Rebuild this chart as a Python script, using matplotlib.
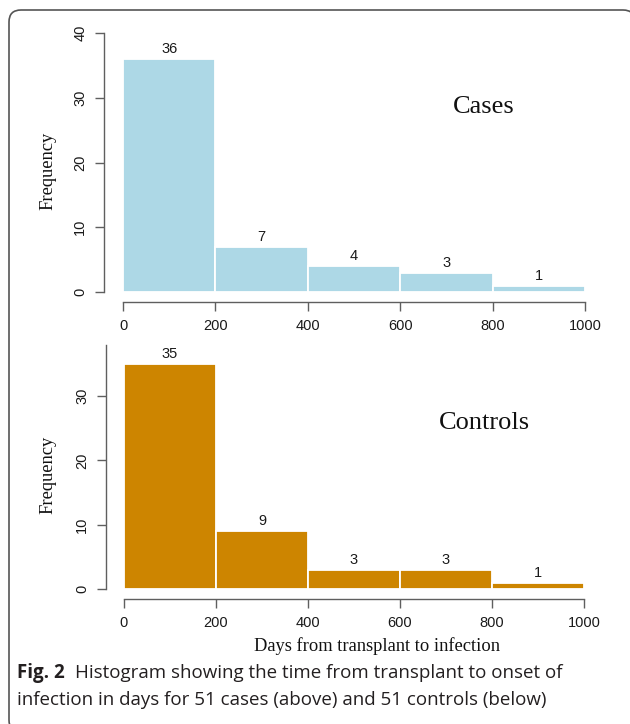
import matplotlib
matplotlib.use("Agg")
import matplotlib.pyplot as plt
from matplotlib.patches import FancyBboxPatch

# ---- data ----
bin_edges = [0, 200, 400, 600, 800, 1000]
cases_counts = [36, 7, 4, 3, 1]
controls_counts = [35, 9, 3, 3, 1]
x_ticks = [0, 200, 400, 600, 800, 1000]
cases_yticks = [0, 10, 20, 30, 40]
controls_yticks = [0, 10, 20, 30]
panel_labels = ["Cases", "Controls"]
ylabel_text = "Frequency"
xlabel_text = "Days from transplant to infection"
caption_bold = "Fig. 2"
caption_line1 = "Histogram showing the time from transplant to onset of"
caption_line2 = "infection in days for 51 cases (above) and 51 controls (below)"

W, H = 630, 724
DPI = 100
fig = plt.figure(figsize=(W / DPI, H / DPI), dpi=DPI)
fig.patch.set_facecolor("white")

def px(x, y):
    return x / W, 1 - y / H

SANS = ["Liberation Sans", "DejaVu Sans"]
SERIF = ["Liberation Serif", "DejaVu Serif"]
AXC = "#5f5f5f"

def make_panel(left, right, y0, ytop_px, ymax, counts, yticks, color, lspine_px, label, label_xy):
    fx0, fy0 = px(left, y0)
    fx1, fy1 = px(right, ytop_px)
    ax = fig.add_axes([fx0, fy0, fx1 - fx0, fy1 - fy0])
    ax.set_xlim(bin_edges[0], bin_edges[-1])
    ax.set_ylim(0, ymax)
    widths = [bin_edges[i + 1] - bin_edges[i] for i in range(len(counts))]
    ax.bar(bin_edges[:-1], counts, width=widths, align="edge", color=color,
           edgecolor="white", linewidth=1.3)
    for i, c in enumerate(counts):
        xc = (bin_edges[i] + bin_edges[i + 1]) / 2
        ax.annotate(str(c), (xc, c), xytext=(0, 7.2), textcoords="offset points",
                    ha="center", va="center", fontsize=10.5, family=SANS,
                    color="#1a1a1a", annotation_clip=False)
    for s in ["top", "right"]:
        ax.spines[s].set_visible(False)
    ax.spines["left"].set_position(("outward", lspine_px * 0.72))
    ax.spines["bottom"].set_position(("outward", 10 * 0.72))
    ax.spines["left"].set_bounds(0, ymax if ymax < 40 else 40)
    ax.spines["bottom"].set_bounds(bin_edges[0], bin_edges[-1])
    for s in ["left", "bottom"]:
        ax.spines[s].set_color(AXC)
        ax.spines[s].set_linewidth(1.0)
    ax.set_xticks(x_ticks)
    ax.set_yticks(yticks)
    ax.tick_params(axis="both", colors=AXC, length=6.5, width=1.0,
                   labelcolor="#1a1a1a", labelsize=10.5)
    ax.tick_params(axis="x", pad=5.5)
    ax.tick_params(axis="y", pad=5.5)
    for t in ax.get_yticklabels():
        t.set_rotation(90)
        t.set_va("center")
        t.set_family(SANS)
    for t in ax.get_xticklabels():
        t.set_family(SANS)
    ax.patch.set_alpha(0)
    lx, ly = px(*label_xy)
    fig.text(lx, ly, label, ha="center", va="center", fontsize=19, family=SERIF,
             color="#111111")
    return ax

# top panel: y=0 at 292px, y=40 at 33px
ax1 = make_panel(123, 585, 292, 33, 40, cases_counts, cases_yticks, "#ADD8E6",
                 19, panel_labels[0], (484, 107))
# bottom panel: y=0 at 589px, scale 6.43 px/unit, spine top ~345px
ymax2 = (589 - 345) / 6.43
ax2 = make_panel(124, 584, 589, 345, ymax2, controls_counts, controls_yticks, "#CD8500",
                 18, panel_labels[1], (484, 423))

for yc in (171, 475):
    fx, fy = px(48, yc)
    fig.text(fx, fy, ylabel_text, rotation=90, ha="center", va="center",
             fontsize=13.3, family=SERIF, color="#111111")

fx, fy = px(377, 646)
fig.text(fx, fy, xlabel_text, ha="center", va="center", fontsize=13.3,
         family=SERIF, color="#111111")

# caption
CAPF = ["Open Sans", "DejaVu Sans"]
CAPS = 13.5
CAPC = "#231f20"
fx, fy = px(17, 673)
tb = fig.text(fx, fy, caption_bold, ha="left", va="center", fontsize=CAPS,
              family=CAPF, weight="bold", color=CAPC)
renderer = fig.canvas.get_renderer()
bb = tb.get_window_extent(renderer=renderer)
fig.text((bb.x1 + 10) / W, fy, caption_line1, ha="left", va="center", fontsize=CAPS,
         family=CAPF, color=CAPC)
fx2, fy2 = px(17, 700)
fig.text(fx2, fy2, caption_line2, ha="left", va="center", fontsize=CAPS,
         family=CAPF, color=CAPC)

# border
bg = fig.add_axes([0, 0, 1, 1], zorder=-5)
bg.set_xlim(0, W)
bg.set_ylim(H, 0)
bg.axis("off")
bg.add_patch(FancyBboxPatch((9, 10), 626, 722, boxstyle="round,pad=0,rounding_size=12",
                            facecolor="white", edgecolor="#555555", linewidth=1.2))

fig.savefig("out.png", dpi=DPI, facecolor="white")
